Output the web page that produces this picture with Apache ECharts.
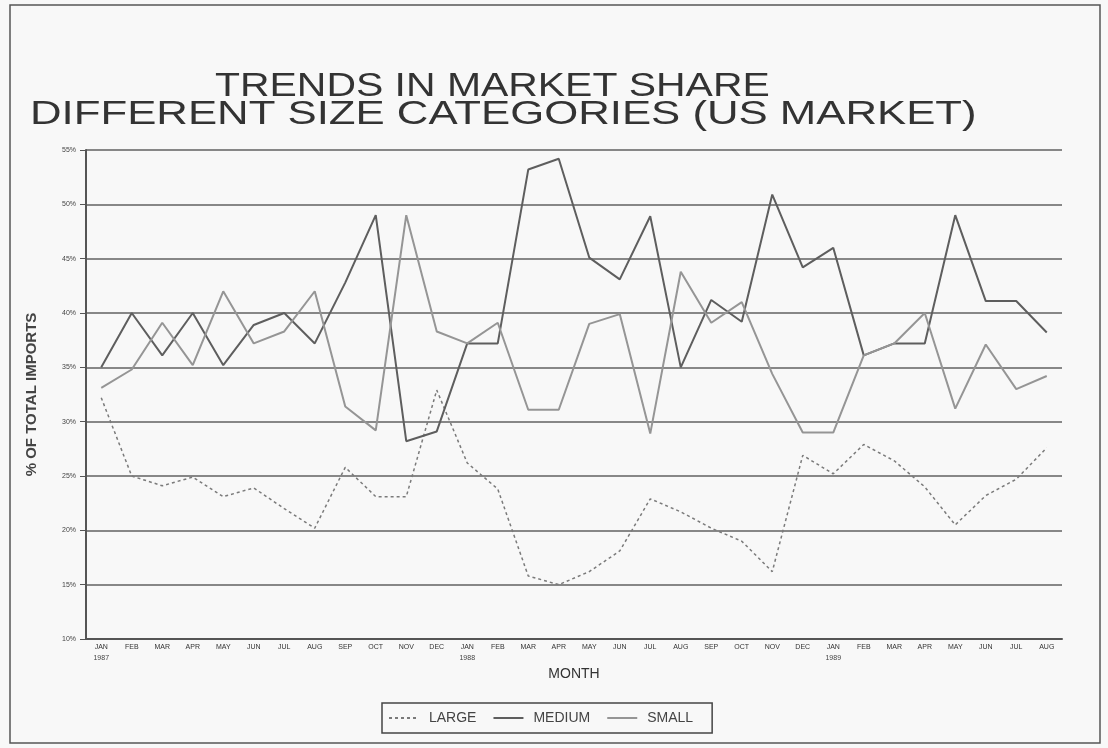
<!DOCTYPE html>
<html>
<head>
<meta charset="utf-8">
<title>Trends in Market Share</title>
<script src="https://cdn.jsdelivr.net/npm/echarts@6/dist/echarts.min.js"></script>
<style>
  html, body { margin: 0; padding: 0; background: #f8f8f8; }
  #chart { width: 1108px; height: 748px; }
</style>
</head>
<body>
<div id="chart"></div>
<script>
// Monthly share of total imports by size category, Jan 1987 - Aug 1989
const months = [
  'JAN','FEB','MAR','APR','MAY','JUN','JUL','AUG','SEP','OCT','NOV','DEC',
  'JAN','FEB','MAR','APR','MAY','JUN','JUL','AUG','SEP','OCT','NOV','DEC',
  'JAN','FEB','MAR','APR','MAY','JUN','JUL','AUG'
];
// year shown under the first month of each year
const years = ['1987','','','','','','','','','','','',
               '1988','','','','','','','','','','','',
               '1989','','','','','','',''];

const large = [32.2, 25.0, 24.1, 24.9, 23.1, 23.9, 22.0, 20.2, 25.8, 23.1, 23.1, 32.9,
               26.2, 23.8, 15.8, 15.0, 16.2, 18.1, 22.9, 21.7, 20.2, 19.0, 16.2, 26.9,
               25.2, 27.9, 26.4, 24.0, 20.5, 23.2, 24.7, 27.6];
const medium = [35.0, 40.0, 36.1, 40.0, 35.2, 38.9, 40.0, 37.2, 42.8, 49.0, 28.2, 29.1,
                37.2, 37.2, 53.2, 54.2, 45.1, 43.1, 48.9, 35.0, 41.2, 39.2, 50.9, 44.2,
                46.0, 36.1, 37.2, 37.2, 49.0, 41.1, 41.1, 38.2];
const small = [33.1, 34.8, 39.1, 35.2, 42.0, 37.2, 38.3, 42.0, 31.4, 29.2, 49.0, 38.3,
               37.2, 39.1, 31.1, 31.1, 39.0, 39.9, 28.9, 43.8, 39.1, 41.0, 34.4, 29.0,
               29.0, 36.1, 37.2, 40.0, 31.2, 37.1, 33.0, 34.2];

const yMin = 10, yMax = 55, yStep = 5;

// wide, plotter-style title lettering
const titleFont = '33px "Liberation Sans"';

const chart = echarts.init(document.getElementById('chart'), null, { renderer: 'canvas' });

chart.setOption({
  backgroundColor: '#f8f8f8',
  animation: false,
  graphic: [
    {
      type: 'rect',
      shape: { x: 10, y: 5, width: 1090, height: 738 },
      style: { fill: 'none', stroke: '#555', lineWidth: 1.5 },
      silent: true
    },
    {
      type: 'text', x: 215, y: 87, scaleX: 1.24,
      style: { text: 'TRENDS IN MARKET SHARE', font: titleFont, fill: '#333',
               textAlign: 'left', textVerticalAlign: 'middle' }
    },
    {
      type: 'text', x: 30, y: 115, scaleX: 1.325,
      style: { text: 'DIFFERENT SIZE CATEGORIES (US MARKET)', font: titleFont, fill: '#333',
               textAlign: 'left', textVerticalAlign: 'middle' }
    }
  ],
  legend: {
    left: 382, top: 703,
    padding: [8, 19, 8, 6],
    itemGap: 16,
    itemWidth: 30,
    itemHeight: 12,
    borderColor: '#444',
    borderWidth: 1.5,
    itemStyle: { opacity: 0 },
    textStyle: { fontFamily: 'Liberation Sans', fontSize: 14, color: '#444', padding: [0, 0, 0, 5] },
    data: ['LARGE', 'MEDIUM', 'SMALL']
  },
  grid: { left: 86, right: 46, top: 150, bottom: 109, containLabel: false },
  xAxis: {
    type: 'category',
    data: months,
    boundaryGap: true,
    name: 'MONTH',
    nameLocation: 'middle',
    nameGap: 27,
    nameTextStyle: { fontFamily: 'Liberation Sans', fontSize: 14, color: '#333' },
    axisLine: { lineStyle: { color: '#555', width: 2 } },
    axisTick: { alignWithLabel: true, length: 4, lineStyle: { color: '#555' } },
    axisLabel: {
      interval: 0,
      margin: 5,
      fontFamily: 'Liberation Sans',
      fontSize: 7,
      color: '#333',
      formatter: function (v, i) { return years[i] ? v + '\n{yr|' + years[i] + '}' : v; },
      rich: { yr: { fontSize: 7, color: '#444', padding: [4, 0, 0, 0], fontFamily: 'Liberation Sans' } }
    },
    splitLine: { show: false }
  },
  yAxis: {
    type: 'value',
    min: yMin, max: yMax, interval: yStep,
    name: '% OF TOTAL IMPORTS',
    nameLocation: 'middle',
    nameGap: 47,
    nameRotate: 90,
    nameTextStyle: { fontFamily: 'Liberation Sans', fontSize: 15, fontWeight: 'bold', color: '#444' },
    axisLine: { show: true, lineStyle: { color: '#555', width: 2 } },
    axisTick: { show: true, length: 6, lineStyle: { color: '#555' } },
    axisLabel: {
      formatter: '{value}%',
      margin: 10,
      fontFamily: 'Liberation Sans',
      fontSize: 7,
      color: '#444'
    },
    splitLine: { show: true, lineStyle: { color: '#626262', width: 1.5 } }
  },
  series: [
    {
      name: 'LARGE', type: 'line', data: large,
      symbol: 'none',
      lineStyle: { color: '#7a7a7a', width: 1.5, type: [3, 3] },
      itemStyle: { color: '#7a7a7a' }
    },
    {
      name: 'MEDIUM', type: 'line', data: medium,
      symbol: 'none',
      lineStyle: { color: '#5e5e5e', width: 2 },
      itemStyle: { color: '#5e5e5e' }
    },
    {
      name: 'SMALL', type: 'line', data: small,
      symbol: 'none',
      lineStyle: { color: '#959595', width: 2 },
      itemStyle: { color: '#959595' }
    }
  ]
});
</script>
</body>
</html>
